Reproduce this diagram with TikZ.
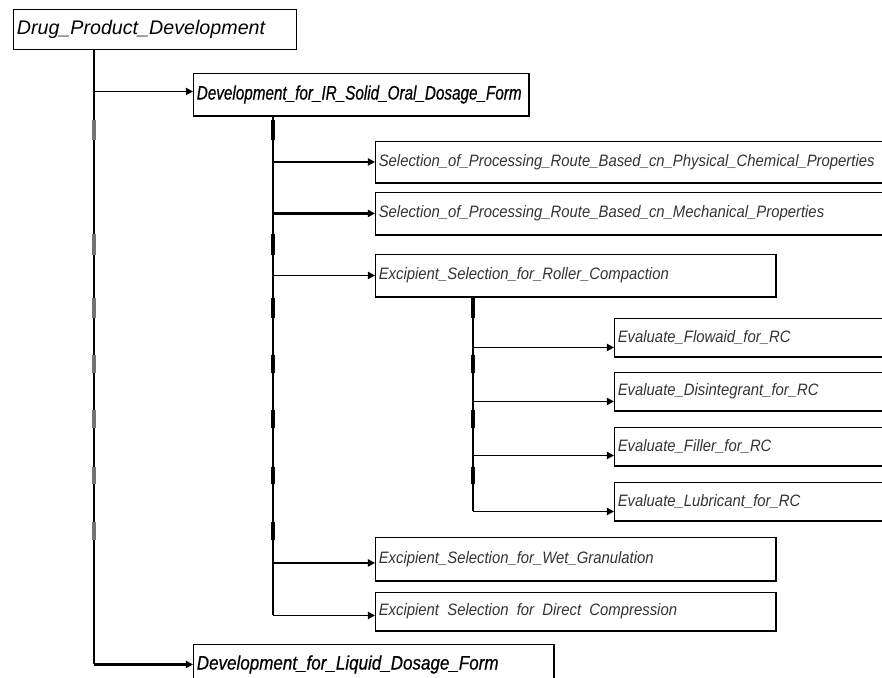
\documentclass[tikz,border=0pt]{standalone}
\usepackage{fontspec}
\setmainfont{Liberation Sans}
\newfontfamily\topfont{Liberation Sans}
\newfontfamily\midfont{Liberation Sans}[FakeStretch=0.78,FakeBold=0.6]
\newfontfamily\liqfont{Liberation Sans}[FakeStretch=0.87,FakeBold=0.6]
\newfontfamily\lowfont{Liberation Sans}[FakeStretch=0.9]
\usetikzlibrary{arrows.meta,calc}

\tikzset{
  box/.style={draw, line width=0.8pt, anchor=north west, inner xsep=1mm, inner ysep=0pt, align=left},
  topbox/.style={box, font=\topfont\fontsize{16.8}{20}\selectfont\itshape},
  midbox/.style={box, font=\midfont\fontsize{16.7}{20}\selectfont\itshape},
  liqbox/.style={box, font=\liqfont\fontsize{16.7}{20}\selectfont\itshape},
  lowbox/.style={box, text=black!80, font=\lowfont\fontsize{14.1}{17}\selectfont\itshape},
  stem/.style={line width=1.6pt},
  wire/.style={line width=1.6pt, -{Triangle[length=6pt,width=6pt]}},
  heavy/.style={wire, line width=2.2pt},
  tick/.style={line width=2.8pt},
  edge/.style={line width=1.6pt},
}

\begin{document}
\begin{tikzpicture}[x=0.3mm, y=-0.3mm]
  \useasboundingbox (0,0) rectangle (882,678);
  \clip (0,0) rectangle (882,678);

  % boxes
  \node[topbox, text width=82.9mm, minimum height=12mm] (drug) at (13,9) {Drug\_Product\_Development};
  \node[midbox, text width=98.5mm, minimum height=12.6mm] (devir) at (193,73) {Development\_for\_IR\_Solid\_Oral\_Dosage\_Form};
  \node[lowbox, text width=155.5mm, minimum height=12.3mm] (sel1) at (375,141) {Selection\_of\_Processing\_Route\_Based\_cn\_Physical\_Chemical\_Properties};
  \node[lowbox, text width=155.5mm, minimum height=12.6mm] (sel2) at (375,192) {Selection\_of\_Processing\_Route\_Based\_cn\_Mechanical\_Properties};
  \node[lowbox, text width=118mm, minimum height=12.6mm] (roll) at (375,254) {Excipient\_Selection\_for\_Roller\_Compaction};
  \node[lowbox, text width=83.8mm, minimum height=11.4mm] (flow) at (614,318) {Evaluate\_Flowaid\_for\_RC};
  \node[lowbox, text width=83.8mm, minimum height=11.4mm] (dis) at (614,372) {Evaluate\_Disintegrant\_for\_RC};
  \node[lowbox, text width=83.8mm, minimum height=11.4mm] (fill) at (614,427) {Evaluate\_Filler\_for\_RC};
  \node[lowbox, text width=83.8mm, minimum height=11.4mm] (lub) at (614,482) {Evaluate\_Lubricant\_for\_RC};
  \node[lowbox, text width=118mm, minimum height=12.9mm] (wet) at (375,537) {Excipient\_Selection\_for\_Wet\_Granulation};
  \node[lowbox, text width=118mm, minimum height=11.4mm] (dir) at (375,592) {Excipient\phantom{\_}Selection\phantom{\_}for\phantom{\_}Direct\phantom{\_}Compression};
  \node[liqbox, text width=106mm, minimum height=12mm] (liq) at (193,644) {Development\_for\_Liquid\_Dosage\_Form};

  \foreach \n in {devir,sel1,sel2,roll,flow,dis,fill,lub,wet,dir,liq}
    \draw[edge] (\n.south west) -- (\n.south east) -- (\n.north east);

  % tree lines
  \coordinate (trunk) at ([xshift=24.3mm]drug.south west);
  \coordinate (br) at ([xshift=24mm]devir.south west);
  \coordinate (sub) at ([xshift=29.4mm]roll.south west);

  \draw[stem] (trunk) -- (trunk |- liq.west);
  \draw[stem] (br) -- ($(br |- dir.west)+(0,4)$);
  \draw[stem] (sub) -- ($(sub |- lub.west)+(0,10)$);

  \draw[wire] ($(trunk |- devir.west)+(0,-3)$) -- ($(devir.west)+(0,-3)$);
  \draw[heavy] (trunk |- liq.west) -- (liq.west);
  \draw[heavy] (br |- sel1.west) -- (sel1.west);
  \draw[heavy] (br |- sel2.west) -- (sel2.west);
  \draw[wire] (br |- roll.west) -- (roll.west);
  \draw[heavy] ($(br |- wet.west)+(0,4)$) -- ($(wet.west)+(0,4)$);
  \draw[wire] ($(br |- dir.west)+(0,4)$) -- ($(dir.west)+(0,4)$);
  \foreach \n/\dy in {flow/10,dis/10,fill/9,lub/10}
    \draw[wire] ($(sub |- \n.west)+(0,\dy)$) -- ($(\n.west)+(0,\dy)$);

  % ticks on the stems
  \foreach \ya/\yb in {120/140,234/255,298/318,355/373,410/428,467/484,522/540}{
    \draw[tick, black!55] (trunk |- 0,\ya) -- (trunk |- 0,\yb);
    \draw[tick] (br |- 0,\ya) -- (br |- 0,\yb);
  }
  \foreach \ya/\yb in {298/318,355/373,410/428,467/484}
    \draw[tick] (sub |- 0,\ya) -- (sub |- 0,\yb);
\end{tikzpicture}
\end{document}
